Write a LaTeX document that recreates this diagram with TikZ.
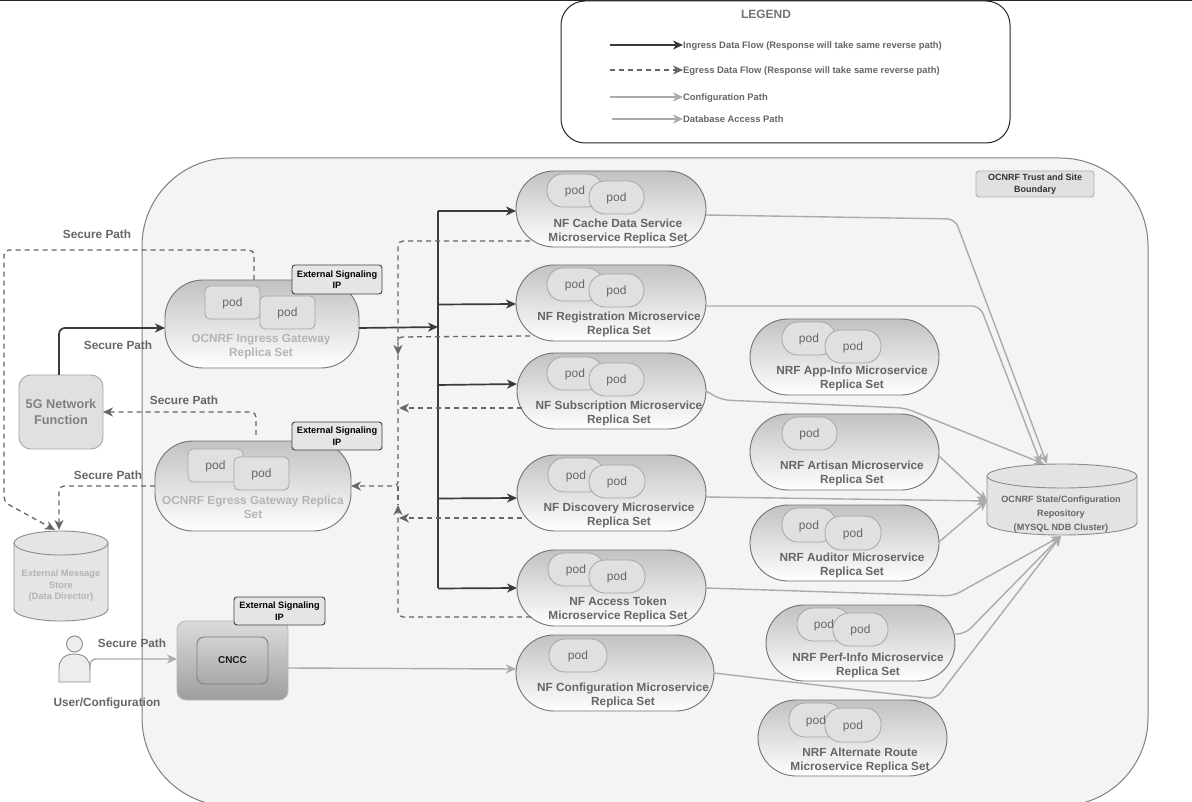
\documentclass[tikz,border=0pt]{standalone}
\usepackage{fontspec}
\setmainfont{Liberation Sans}
\usetikzlibrary{arrows.meta}
\definecolor{txtg}{HTML}{666666}
\definecolor{txtl}{HTML}{B4B4B4}
\definecolor{ingc}{HTML}{3A3A3A}
\definecolor{egc}{HTML}{666666}
\definecolor{dbc}{HTML}{ABABAB}
\newcommand{\fsz}[2]{\fontsize{#1}{#2}\selectfont}
\newcommand{\boxnode}[7][]{%
  \pgfmathsetmacro\myx{(#3+#5)/2}\pgfmathsetmacro\myy{(#4+#6)/2}%
  \pgfmathsetmacro\myw{#5-#3}\pgfmathsetmacro\myh{#6-#4}%
  \node[inner sep=0pt,outer sep=0pt,minimum width=\myw pt,minimum height=\myh pt,#1] (#2) at (\myx,\myy) {#7};}
\newcommand{\pillnode}[6]{\boxnode[pillst,rounded corners=38pt]{#1}{#2}{#3}{#4}{#5}{}\node[plabel] (#1t) at #6;}
\newcommand{\podp}[5]{\boxnode[podst,rounded corners=16pt]{#1}{#2}{#3}{#4}{#5}{pod}}
\newcommand{\podr}[5]{\boxnode[podst,rounded corners=5pt]{#1}{#2}{#3}{#4}{#5}{pod}}
\tikzset{
  pillst/.style={draw=black!55,line width=0.9pt,top color=black!24,bottom color=white},
  plabel/.style={font=\bfseries\fsz{11.8}{14},text=txtg,align=center,inner sep=0pt,yshift=-0.5pt},
  podst/.style={draw=black!35,line width=0.8pt,fill=black!12,text=txtg,font=\fsz{12}{14},text height=10.5pt,text depth=2pt},
  ipst/.style={draw=black!75,line width=0.9pt,fill=black!10,rounded corners=3pt,font=\bfseries\fsz{9.2}{11.5},align=center,text=black},
  seclabel/.style={font=\bfseries\fsz{11.8}{14},text=txtg,inner sep=0pt,yshift=-0.3pt},
  legtext/.style={font=\bfseries\fsz{9.4}{12},text=txtg,inner sep=0pt,anchor=west,text height=9.5pt,text depth=2.5pt},
  tip/.style={-{Stealth[length=10pt,width=9pt,inset=3pt]}},
  ingress/.style={tip,draw=ingc,line width=1.7pt},
  egress/.style={tip,draw=egc,line width=1.3pt,dash pattern=on 5pt off 4pt},
  egressn/.style={draw=egc,line width=1.3pt,dash pattern=on 5pt off 4pt},
  dbpath/.style={tip,draw=dbc,line width=1.4pt},
  cyl/.style={line width=0.9pt,draw=black!45},
}
\begin{document}
\begin{tikzpicture}[x=1pt,y=-1pt]
\clip (0,0) rectangle (1192,802);
\fill[white] (0,0) rectangle (1192,802);
\draw[black!85,line width=1.2pt] (0,0.5) -- (1192,0.5);

% Trust boundary
\boxnode[draw=black!50,line width=1pt,fill=black!4.5,rounded corners=88pt]{trust}{142}{158}{1148}{806}{}
\boxnode[draw=black!30,line width=0.9pt,fill=black!12,rounded corners=3pt,font=\bfseries\fsz{9}{12},align=center,text=black!80]{trustl}{976}{171}{1094}{197}{OCNRF Trust and Site\\Boundary}

% Legend
\boxnode[draw=black!85,line width=1pt,fill=white,rounded corners=24pt]{legend}{561}{1}{1010}{143}{}
\node[font=\bfseries\fsz{12}{14},text=black!55,inner sep=0pt] (legt) at (766,14) {LEGEND};
\node[legtext] (l1) at (683,45) {Ingress Data Flow (Response will take same reverse path)};
\node[legtext] (l2) at (683,70) {Egress Data Flow (Response will take same reverse path)};
\node[legtext] (l3) at (683,97) {Configuration Path};
\node[legtext] (l4) at (683,119) {Database Access Path};
\coordinate (l1s) at (610,45); \coordinate (l2s) at (610,70); \coordinate (l3s) at (610,97); \coordinate (l4s) at (612,119);
\draw[ingress] (l1s) -- (l1.west);
\draw[egress] (l2s) -- (l2.west);
\draw[dbpath] (l3s) -- (l3.west);
\draw[dbpath] (l4s) -- (l4.west);

\coordinate (egbus) at (398,486);
\coordinate (bus) at (438,327);

% 5G network function
\boxnode[draw=black!35,line width=0.9pt,fill=black!12,rounded corners=12pt,font=\bfseries\fsz{12.7}{16},align=center,text=black!50]{nf}{19}{375}{103}{449}{5G Network\\Function}

% External store cylinder
\boxnode{ext}{14}{531}{108}{621}{}
\draw[cyl,fill=black!10] (14,543) -- (14,609) arc[start angle=180,end angle=360,x radius=47pt,y radius=12pt] -- (108,543) arc[start angle=0,end angle=180,x radius=47pt,y radius=12pt] -- cycle;
\draw[cyl] (14,543) arc[start angle=180,end angle=360,x radius=47pt,y radius=12pt];
\node[font=\bfseries\fsz{9.3}{11.5},text=txtl,align=center,inner sep=0pt] (extt) at (61,586) {External Message\\Store\\(Data Director)};

% DB cylinder
\boxnode{db}{987}{464}{1137}{535}{}
\draw[cyl,fill=black!11] (987,476) -- (987,523) arc[start angle=180,end angle=360,x radius=75pt,y radius=12pt] -- (1137,476) arc[start angle=0,end angle=180,x radius=75pt,y radius=12pt] -- cycle;
\draw[cyl] (987,476) arc[start angle=180,end angle=360,x radius=75pt,y radius=12pt];
\node[font=\bfseries\fsz{9.1}{14},text=txtg,align=center,inner sep=0pt] (dbt) at (1061,514) {OCNRF State/Configuration\\Repository\\(MYSQL NDB Cluster)};

% Gateways
\begin{scope}[plabel/.append style={text=txtl}]
\pillnode{ing}{165}{280}{359}{368}{(261,346) {OCNRF Ingress Gateway\\Replica Set}}
\pillnode{egr}{155}{441}{351}{531}{(253,507) {OCNRF Egress Gateway Replica\\Set}}
\end{scope}
\podr{ip1}{205}{286}{260}{319}
\podr{ip2}{260}{296}{315}{329}
\podr{ep1}{188}{449}{243}{482}
\podr{ep2}{234}{457}{289}{490}
\boxnode[ipst]{ingip}{292}{265}{382}{294}{External Signaling\\IP}
\boxnode[ipst]{egrip}{292}{422}{382}{450}{External Signaling\\IP}

% NF pills
\pillnode{cache}{516}{171}{706}{247}{(618,231) {NF Cache Data Service\\Microservice Replica Set}}
\podp{c1}{547}{174}{603}{207}\podp{c2}{589}{181}{644}{214}
\pillnode{reg}{516}{265}{706}{341}{(619,324) {NF Registration Microservice\\Replica Set}}
\podp{r1}{547}{268}{603}{301}\podp{r2}{589}{274}{644}{307}
\pillnode{sub}{517}{353}{706}{429}{(619,413) {NF Subscription Microservice\\Replica Set}}
\podp{s1}{547}{357}{603}{390}\podp{s2}{589}{363}{644}{396}
\pillnode{disc}{517}{455}{706}{531}{(619,514.5) {NF Discovery Microservice\\Replica Set}}
\podp{d1}{548}{458}{604}{492}\podp{d2}{589}{465}{645}{498}
\pillnode{acc}{517}{550}{706}{626}{(618,609) {NF Access Token\\Microservice Replica Set}}
\podp{a1}{548}{553}{604}{586}\podp{a2}{589}{560}{645}{593}
\pillnode{conf}{516}{635}{714}{711}{(623,694.5) {NF Configuration Microservice\\Replica Set}}
\podp{f1}{549}{639}{607}{672}

% NRF pills
\pillnode{app}{750}{319}{939}{395}{(852,378) {NRF App-Info Microservice\\Replica Set}}
\podp{p1}{782}{322}{836}{355}\podp{p2}{825}{330}{881}{363}
\pillnode{art}{750}{414}{939}{490}{(852,473) {NRF Artisan Microservice\\Replica Set}}
\podp{t1}{782}{417}{837}{450}
\pillnode{aud}{750}{505}{939}{581}{(852,565) {NRF Auditor Microservice\\Replica Set}}
\podp{u1}{782}{508}{836}{542}\podp{u2}{825}{516}{881}{550}
\pillnode{perf}{766}{605}{955}{681}{(868,664.5) {NRF Perf-Info Microservice\\Replica Set}}
\podp{e1}{797}{608}{851}{641}\podp{e2}{833}{613}{888}{646}
\pillnode{alt}{758}{700}{947}{776}{(860,760) {NRF Alternate Route\\Microservice Replica Set}}
\podp{o1}{789}{703}{843}{737}\podp{o2}{825}{708}{881}{742}

% CNCC
\boxnode[draw=black!28,line width=0.9pt,top color=black!14,bottom color=black!38,rounded corners=9pt]{cnccout}{177}{621}{288}{700}{}
\boxnode[draw=black!50,line width=0.9pt,top color=black!18,bottom color=black!34,rounded corners=7pt,font=\fsz{10}{12},text=black!90]{cncc}{197}{637}{268}{684}{\bfseries CNCC}
\boxnode[ipst]{cnccip}{234}{597}{325}{625}{External Signaling\\IP}

% User
\node[circle,draw=black!45,line width=0.9pt,fill=black!7,minimum size=16pt,inner sep=0pt] (uhead) at (74.5,644) {};
\draw[draw=black!45,line width=0.9pt,fill=black!7] (59,682) -- (59,668) .. controls (59,660) and (64,654) .. (74.5,654) .. controls (85,654) and (90,660) .. (90,668) -- (90,682) -- cycle;
\coordinate (userp) at (90,670);
\node[seclabel] (ulab) at (107,703) {User/Configuration};

% Secure path labels
\node[seclabel] (s1l) at (97,234) {Secure Path};
\node[seclabel] (s2l) at (118,345) {Secure Path};
\node[seclabel] (s3l) at (184,400) {Secure Path};
\node[seclabel] (s4l) at (108,475) {Secure Path};
\node[seclabel] (s5l) at (132,643) {Secure Path};

% Ingress flows
\draw[ingress,rounded corners=6pt] ([xshift=-2pt]nf.north) |- ([yshift=-4pt]ing.west);
\draw[ingress] ([yshift=-4pt]ing.east) -- (bus);
\draw[ingc,line width=1.7pt] (438,211) -- (438,588);
\draw[ingress] (438,211) -- ([yshift=-2pt]cache.west);
\draw[ingress] (438,304.5) -- ([yshift=-1pt]reg.west);
\draw[ingress] (438,385) -- ([yshift=7pt]sub.west);
\draw[ingress] (438,498.5) -- ([yshift=-5pt]disc.west);
\draw[ingress] (438,588.5) -- (acc.west);

% Egress flows
\draw[egress,rounded corners=5pt] ([xshift=14pt,yshift=6pt]cache.south west) -- (398,241) -- (398,355);
\draw[egressn,rounded corners=4pt] ([xshift=14pt,yshift=5pt]reg.south west) -- (398,337) -- (398,345);
\draw[egress] (522,408) -- (399,408);
\draw[egress] (522,518) -- (399,518);
\draw[egress,rounded corners=5pt] ([xshift=14pt,yshift=9pt]acc.south west) -- (398,617) -- (398,505);
\draw[egress,rounded corners=4pt] (398,355) -- (egbus) -- (egr.east);
\draw[egressn] (398,486) -- (398,505);
\draw[egress,rounded corners=5pt] ([xshift=-8pt]ing.north) -- (254,250) -- (4,250) -- (4,502) -- ([xshift=-6pt,yshift=1pt]ext.north);
\draw[egress,rounded corners=5pt] ([xshift=3pt]egr.north) ++(0,-6) -- (256,412) -- (nf.east |- 0,412);
\draw[egress,rounded corners=5pt] (egr.west) -- (59,486) -- ([xshift=-2pt,yshift=1pt]ext.north);

% Configuration flows
\draw[dbpath,rounded corners=6pt] (userp) -- (90,659) -- ([yshift=1.5pt]cnccout.west);
\draw[dbpath] (cnccout.east |- 0,668) -- ([yshift=4pt]conf.west);

% Database paths
\draw[dbpath,rounded corners=8pt] ([yshift=-6pt]cache.east) -- (955,219) -- (1047,464);
\draw[dbpath,rounded corners=8pt] ([yshift=-3pt]reg.east) -- (980,306) -- (1041,464);
\draw[dbpath,rounded corners=8pt] (sub.east) -- (722,400) -- (905,408) -- (1044,464);
\draw[dbpath] (disc.east |- 0,497) -- (db.west |- 0,501);
\draw[dbpath] (art.east) ++(0,4) -- (db.west |- 0,501);
\draw[dbpath] (aud.east) ++(0,-1) -- (db.west |- 0,501);
\draw[dbpath,rounded corners=8pt] (acc.east) -- (953,596) -- (1061,536);
\draw[dbpath,rounded corners=8pt] (perf.east) ++(0,-9) -- (965,634) -- (1061,536);
\draw[dbpath,rounded corners=8pt] (conf.east) -- (936,699) -- (1061,536);
\end{tikzpicture}
\end{document}
